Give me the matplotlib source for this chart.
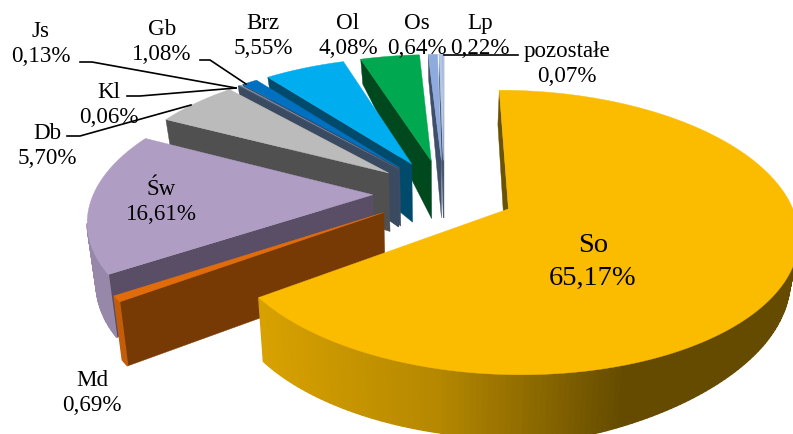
import numpy as np
import matplotlib
matplotlib.use("Agg")
import matplotlib.pyplot as plt
from matplotlib.patches import Polygon
from matplotlib.colors import to_rgb

# species share, clockwise from the top of the pie
species = ["So", "Md", "Św", "Db", "Kl", "Js", "Gb", "Brz", "Ol", "Os", "Lp", "pozostałe"]
shares = [65.17, 0.69, 16.61, 5.70, 0.06, 0.13, 1.08, 5.55, 4.08, 0.64, 0.22, 0.07]
top_colors = ["#FBBC00", "#E36C0A", "#B09DC4", "#BBBBBB", "#44546A", "#7F8FA9", "#0070C0",
              "#00AEEF", "#00A94F", "#8FAADC", "#B4C7E7", "#B4C7E7"]
wall_colors = ["#6B5200", "#773A04", "#5A4E66", "#505050", "#3A4A60", "#3A4A60", "#3A4C66",
               "#004A6B", "#00491F", "#3E4F6B", "#47566E", "#47566E"]

label_xy = [(593, 262), (92, 393), (161, 202), (47, 146), (109, 105), (41, 44), (162, 42),
            (263, 36), (348, 36), (417, 36), (480, 36), (567, 64)]
label_size = [20.5] + [16.6] * 11
label_gap = [1.4] + [1.22] * 11

leaders = [([80, 92, 236], [62, 62, 88]),
           ([200, 210, 246], [60, 60, 84]),
           ([127, 140, 236], [96, 96, 88]),
           ([67, 80, 191], [136, 136, 105]),
           ([444, 518], [55, 55])]

# camera
cx, cy = 444, 193
tilt = np.radians(28.5)
dist = 5.4
focal = 279 * dist
explode = 0.255
start = 0.0


def project(X, Y):
    zc = dist - Y * np.cos(tilt)
    return cx + focal * X / zc, cy + focal * Y * np.sin(tilt) / zc


def drop(px, py):
    # lower edge of the pie body under a point of the top surface
    h = np.interp(py, [62, 162, 296, 380], [25, 58, 64, 64]) * np.interp(px, [600, 800], [1, 0.7])
    return px + (cx - px) * 0.025, py + h


def shade(color, f):
    return tuple(min(1, c * f) for c in to_rgb(color))


fig = plt.figure(figsize=(7.93, 4.34), dpi=100)
ax = fig.add_axes([0, 0, 1, 1])
ax.set_xlim(0, 793)
ax.set_ylim(434, 0)
ax.axis("off")


def face(pts, color, lw=0.3):
    ax.add_patch(Polygon(pts, closed=True, facecolor=color, edgecolor=color, lw=lw))


angles = start + np.cumsum([0] + shares) * 3.6
for i in reversed(range(len(shares))):
    a0, a1 = np.radians(angles[i]), np.radians(angles[i + 1])
    mid = (a0 + a1) / 2
    ox, oy = explode * np.sin(mid), -explode * np.cos(mid)
    th = np.linspace(a0, a1, max(2, int(np.degrees(a1 - a0)) + 2))
    rx, ry = project(ox + np.sin(th), oy - np.cos(th))
    ax_, ay_ = project(ox, oy)
    bx, by = drop(rx, ry)
    bax, bay = drop(ax_, ay_)

    # side walls: only the ones turned towards the viewer
    if rx[0] < ax_:
        face([(ax_, ay_), (rx[0], ry[0]), (bx[0], by[0]), (bax, bay)], wall_colors[i])
    if rx[-1] > ax_:
        face([(ax_, ay_), (rx[-1], ry[-1]), (bx[-1], by[-1]), (bax, bay)], wall_colors[i])

    # rim, darker towards the right
    for j in range(len(th) - 1):
        if rx[j + 1] < rx[j]:
            f = np.interp((rx[j] + rx[j + 1]) / 2, [258, 440, 540, 623], [0.86, 0.72, 0.55, 0.40])
            face([(rx[j], ry[j]), (rx[j + 1], ry[j + 1]), (bx[j + 1], by[j + 1]), (bx[j], by[j])],
                 shade(top_colors[i], f), lw=1.0)

    face([(ax_, ay_)] + list(zip(rx, ry)), top_colors[i])

for xs, ys in leaders:
    ax.plot(xs, ys, color="black", lw=1.2)

for name, val, (x, y), size, gap in zip(species, shares, label_xy, label_size, label_gap):
    ax.text(x, y, name + "\n" + f"{val:.2f}".replace(".", ",") + "%", ha="center", va="center",
            family="Liberation Serif", fontsize=size, linespacing=gap, color="black")

fig.savefig("out.png", dpi=100)
